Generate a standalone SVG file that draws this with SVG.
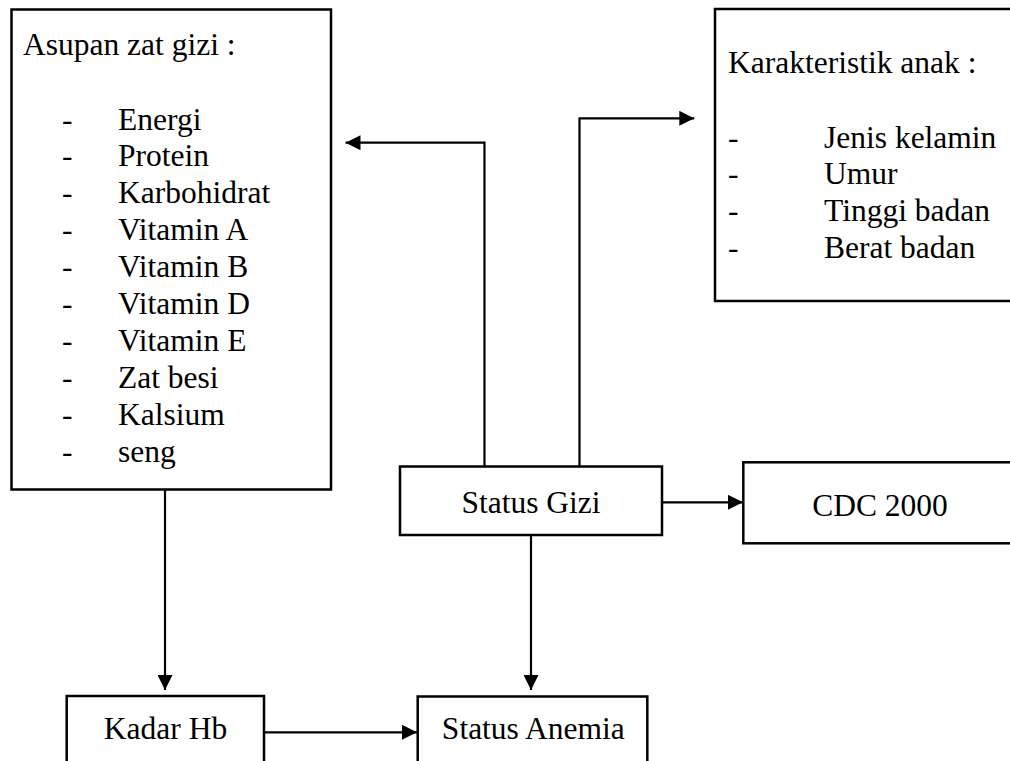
<svg xmlns="http://www.w3.org/2000/svg" width="1010" height="761" viewBox="0 0 1010 761">
<style>
.box{fill:#fff;stroke:#000;stroke-width:2.5}
.t{font-family:'Liberation Serif','Times New Roman','DejaVu Serif',serif;font-size:31.5px;fill:#000}
.c{fill:none;stroke:#000;stroke-width:2.2}
</style>
<defs>
<marker id="ah" viewBox="0 0 15 15" refX="15" refY="7.5" markerWidth="15" markerHeight="15" markerUnits="userSpaceOnUse" orient="auto">
<path d="M0,0 L15,7.5 L0,15 Z" fill="#000"/>
</marker>
</defs>
<rect width="1010" height="761" fill="#fff"/>
<g id="asupan">
<rect class="box" x="11.5" y="9.5" width="319.5" height="480"/>
<text class="t" font-family="Liberation Serif, serif" x="23" y="55">Asupan zat gizi :</text>
<g class="t" font-family="Liberation Serif, serif">
<text x="62" y="129.5">-</text><text x="118" y="129.5">Energi</text>
<text x="62" y="166.4">-</text><text x="118" y="166.4">Protein</text>
<text x="62" y="203.3">-</text><text x="118" y="203.3">Karbohidrat</text>
<text x="62" y="240.2">-</text><text x="118" y="240.2">Vitamin A</text>
<text x="62" y="277.1">-</text><text x="118" y="277.1">Vitamin B</text>
<text x="62" y="314">-</text><text x="118" y="314">Vitamin D</text>
<text x="62" y="350.9">-</text><text x="118" y="350.9">Vitamin E</text>
<text x="62" y="387.8">-</text><text x="118" y="387.8">Zat besi</text>
<text x="62" y="424.7">-</text><text x="118" y="424.7">Kalsium</text>
<text x="62" y="461.6">-</text><text x="118" y="461.6">seng</text>
</g>
</g>
<g id="karakteristik">
<rect class="box" x="715" y="9" width="310" height="292"/>
<text class="t" x="728" y="73.3">Karakteristik anak :</text>
<g class="t">
<text x="728" y="147.7">-</text><text x="824" y="147.7">Jenis kelamin</text>
<text x="728" y="184.3">-</text><text x="824" y="184.3">Umur</text>
<text x="728" y="221">-</text><text x="824" y="221">Tinggi badan</text>
<text x="728" y="257.7">-</text><text x="824" y="257.7">Berat badan</text>
</g>
</g>
<g id="status-gizi">
<rect class="box" x="400" y="466.5" width="262" height="68.5"/>
<text class="t" x="531" y="512.7" text-anchor="middle" textLength="139" lengthAdjust="spacingAndGlyphs">Status Gizi</text>
</g>
<g id="cdc">
<rect class="box" x="743.3" y="462.3" width="280" height="81"/>
<text class="t" x="880" y="516" text-anchor="middle">CDC 2000</text>
</g>
<g id="kadar-hb">
<rect class="box" x="66.7" y="696" width="197.3" height="80"/>
<text class="t" x="165.5" y="739.3" text-anchor="middle">Kadar Hb</text>
</g>
<g id="status-anemia">
<rect class="box" x="417.7" y="696.5" width="229.6" height="80"/>
<text class="t" x="533.3" y="739.3" text-anchor="middle">Status Anemia</text>
</g>
<g id="connectors">
<path class="c" d="M484.5,466.5 V142.7 H345.5" marker-end="url(#ah)"/>
<path class="c" d="M579.5,466.5 V118.3 H694.3" marker-end="url(#ah)"/>
<path class="c" d="M662,502.3 H743" marker-end="url(#ah)"/>
<path class="c" d="M531,535 V690" marker-end="url(#ah)"/>
<path class="c" d="M165,489.5 V690" marker-end="url(#ah)"/>
<path class="c" d="M264,732.3 H417" marker-end="url(#ah)"/>
</g>
</svg>
